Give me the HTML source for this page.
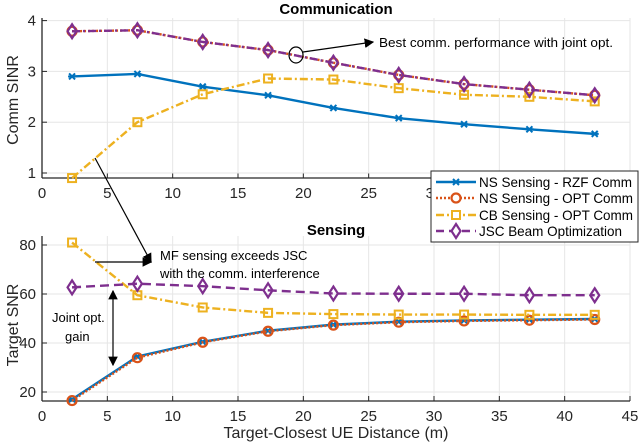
<!DOCTYPE html>
<html><head><meta charset="utf-8"><style>
body{margin:0;background:#fff}
svg{font-family:"Liberation Sans",sans-serif}
</style></head><body>
<svg id="c" width="640" height="443" xmlns="http://www.w3.org/2000/svg"></svg>
<script>
const xs=[2.3,7.3,12.3,17.3,22.3,27.3,32.3,37.3,42.3];
const xTicks=[0,5,10,15,20,25,30,35,40,45];
const topTicks=[1,2,3,4];
const botTicks=[20,40,60,80];
const commRZF=[2.9,2.95,2.7,2.53,2.28,2.08,1.96,1.86,1.77];
const commOPT=[3.79,3.81,3.58,3.42,3.17,2.93,2.75,2.64,2.53];
const commCB=[0.9,2.0,2.55,2.86,2.84,2.67,2.54,2.5,2.41];
const commJSC=[3.79,3.81,3.58,3.42,3.17,2.93,2.75,2.64,2.53];
const senRZF=[17,34.5,40.5,45,47.5,48.7,49.2,49.5,49.8];
const senOPT=[16.5,34,40.3,44.8,47.3,48.5,49,49.3,49.6];
const senCB=[81,59.5,54.5,52.3,51.8,51.6,51.6,51.5,51.5];
const senJSC=[62.7,64.2,63.2,61.5,60.2,60.1,60.1,59.5,59.5];

const svg=document.getElementById('c');
const NS='http://www.w3.org/2000/svg';
function el(t,a,p){const e=document.createElementNS(NS,t);for(const k in a)e.setAttribute(k,a[k]);(p||svg).appendChild(e);return e;}
const X0=42,X1=630;
const xS=v=>X0+(v/45)*(X1-X0);
const topY=v=>173-(v-1)*50.8;
const botY=v=>392-(v-20)*2.45;
const C={blue:'#0072BD',red:'#D95319',yel:'#EDB120',pur:'#7E2F8E'};

function axes(name,yS,ticks,y0,y1){
  const g=el('g',{});
  
  
  xTicks.forEach(t=>{el('line',{x1:xS(t),x2:xS(t),y1:y0,y2:y1,stroke:'#e6e6e6','stroke-width':1},g);
    el('line',{x1:xS(t),x2:xS(t),y1:y1,y2:y1-5,stroke:'#262626'},g);
    const tl=el('text',{x:xS(t),y:y1+20,'text-anchor':'middle','font-size':15,fill:'#262626'},g);tl.textContent=t;});
  ticks.forEach(t=>{el('line',{x1:X0,x2:X1,y1:yS(t),y2:yS(t),stroke:'#e6e6e6'},g);
    el('line',{x1:X0,x2:X0+5,y1:yS(t),y2:yS(t),stroke:'#262626'},g);
    const tl=el('text',{x:X0-6,y:yS(t)+5,'text-anchor':'end','font-size':15,fill:'#262626'},g);tl.textContent=t;});
  el('line',{x1:X0,x2:X1,y1:y1,y2:y1,stroke:'#262626','stroke-width':1.3},g);
  el('line',{x1:X0,x2:X0,y1:y0,y2:y1,stroke:'#262626','stroke-width':1.3},g);
}
axes('comm-axes',topY,topTicks,18,178);
axes('sensing-axes',botY,botTicks,236,401);

function marker(type,x,y,col,g){
  if(type==='x'){el('path',{d:`M${x-3} ${y-3}L${x+3} ${y+3}M${x-3} ${y+3}L${x+3} ${y-3}M${x-4} ${y}L${x+4} ${y}`,stroke:col,'stroke-width':2},g);}
  else if(type==='o'){el('circle',{cx:x,cy:y,r:4.5,fill:'none',stroke:col,'stroke-width':2.2},g);}
  else if(type==='s'){el('rect',{x:x-4,y:y-4,width:8,height:8,fill:'none',stroke:col,'stroke-width':2},g);}
  else {el('path',{d:`M${x} ${y-7}L${x+4.5} ${y}L${x} ${y+7}L${x-4.5} ${y}Z`,fill:'none',stroke:col,'stroke-width':2.2},g);}
}
function series(name,vals,yS,col,dash,mk){
  const g=el('g',{});
  
  
  el('polyline',{points:vals.map((v,i)=>xS(xs[i])+','+yS(v)).join(' '),fill:'none',stroke:col,'stroke-width':2.4,'stroke-dasharray':dash},g);
  vals.forEach((v,i)=>marker(mk,xS(xs[i]),yS(v),col,g));
}
series('comm-ns-rzf',commRZF,topY,C.blue,'none','x');
series('comm-ns-opt',commOPT,topY,C.red,'2 2','o');
series('comm-cb-opt',commCB,topY,C.yel,'8 3 2 3','s');
series('comm-jsc',commJSC,topY,C.pur,'8 3 2 3','d');
series('sensing-ns-rzf',senRZF,botY,C.blue,'none','x');
series('sensing-ns-opt',senOPT,botY,C.red,'2 2','o');
series('sensing-cb-opt',senCB,botY,C.yel,'8 3 2 3','s');
series('sensing-jsc',senJSC,botY,C.pur,'9 5','d');
</script>
<svg width="640" height="443" style="position:absolute;left:0;top:0" xmlns="http://www.w3.org/2000/svg">
<defs><marker id="ar" markerWidth="8" markerHeight="8" refX="7" refY="4" orient="auto"><path d="M0 0L8 4L0 8Z" fill="#000"/></marker>
<marker id="ar2" markerWidth="8" markerHeight="8" refX="7" refY="4" orient="auto-start-reverse"><path d="M0 0L8 4L0 8Z" fill="#000"/></marker></defs>
<text x="336" y="14" text-anchor="middle" font-size="15" font-weight="bold" fill="#000">Communication</text>
<text x="336" y="235" text-anchor="middle" font-size="15" font-weight="bold" fill="#000">Sensing</text>
<text transform="translate(18,100) rotate(-90)" text-anchor="middle" font-size="16" fill="#262626">Comm SINR</text>
<text transform="translate(18,325) rotate(-90)" text-anchor="middle" font-size="16" fill="#262626">Target SNR</text>
<text x="336" y="438" text-anchor="middle" font-size="16" fill="#262626">Target-Closest UE Distance (m)</text>
<ellipse cx="296" cy="55" rx="7" ry="8" fill="none" stroke="#000" stroke-width="1.2"/>
<line x1="303" y1="52" x2="373" y2="42" stroke="#000" stroke-width="1.2" marker-end="url(#ar)"/>
<text x="379" y="47" font-size="13" textLength="234" lengthAdjust="spacingAndGlyphs" fill="#000">Best comm. performance with joint opt.</text>
<line x1="95" y1="158" x2="151" y2="262" stroke="#000" stroke-width="1.2" marker-end="url(#ar)"/>
<line x1="95" y1="262" x2="151" y2="262" stroke="#000" stroke-width="1.2" marker-end="url(#ar)"/>
<text x="160" y="260" font-size="13" fill="#000">MF sensing exceeds JSC</text>
<text x="160" y="278" font-size="13" fill="#000">with the comm. interference</text>
<line x1="113" y1="291" x2="113" y2="365" stroke="#000" stroke-width="1.2" marker-start="url(#ar2)" marker-end="url(#ar2)"/>
<text x="52" y="322" font-size="13" fill="#000">Joint opt.</text>
<text x="65" y="341" font-size="13" fill="#000">gain</text>
<g>
<rect x="431" y="171" width="207" height="71" fill="#fff" stroke="#262626"/>
<g><line x1="436" x2="476" y1="182" y2="182" stroke="#0072BD" stroke-width="2.4"/><path d="M453 179L459 185M453 185L459 179" stroke="#0072BD" stroke-width="2"/><text x="479" y="187" font-size="14" textLength="153" lengthAdjust="spacingAndGlyphs">NS Sensing - RZF Comm</text></g>
<g><line x1="436" x2="476" y1="198" y2="198" stroke="#D95319" stroke-width="2.4" stroke-dasharray="2 2"/><circle cx="456" cy="198" r="4.5" fill="#fff" stroke="#D95319" stroke-width="2.2"/><text x="479" y="203" font-size="14" textLength="154" lengthAdjust="spacingAndGlyphs">NS Sensing - OPT Comm</text></g>
<g><line x1="436" x2="476" y1="215" y2="215" stroke="#EDB120" stroke-width="2.4" stroke-dasharray="8 3 2 3"/><rect x="452" y="211" width="8" height="8" fill="#fff" stroke="#EDB120" stroke-width="2"/><text x="479" y="220" font-size="14" textLength="154" lengthAdjust="spacingAndGlyphs">CB Sensing - OPT Comm</text></g>
<g><line x1="436" x2="476" y1="231" y2="231" stroke="#7E2F8E" stroke-width="2.4" stroke-dasharray="8 5"/><path d="M456 224L460.5 231L456 238L451.5 231Z" fill="#fff" stroke="#7E2F8E" stroke-width="2.2"/><text x="479" y="236" font-size="14" textLength="143" lengthAdjust="spacingAndGlyphs">JSC Beam Optimization</text></g>
</g>
</svg>
</body></html>
